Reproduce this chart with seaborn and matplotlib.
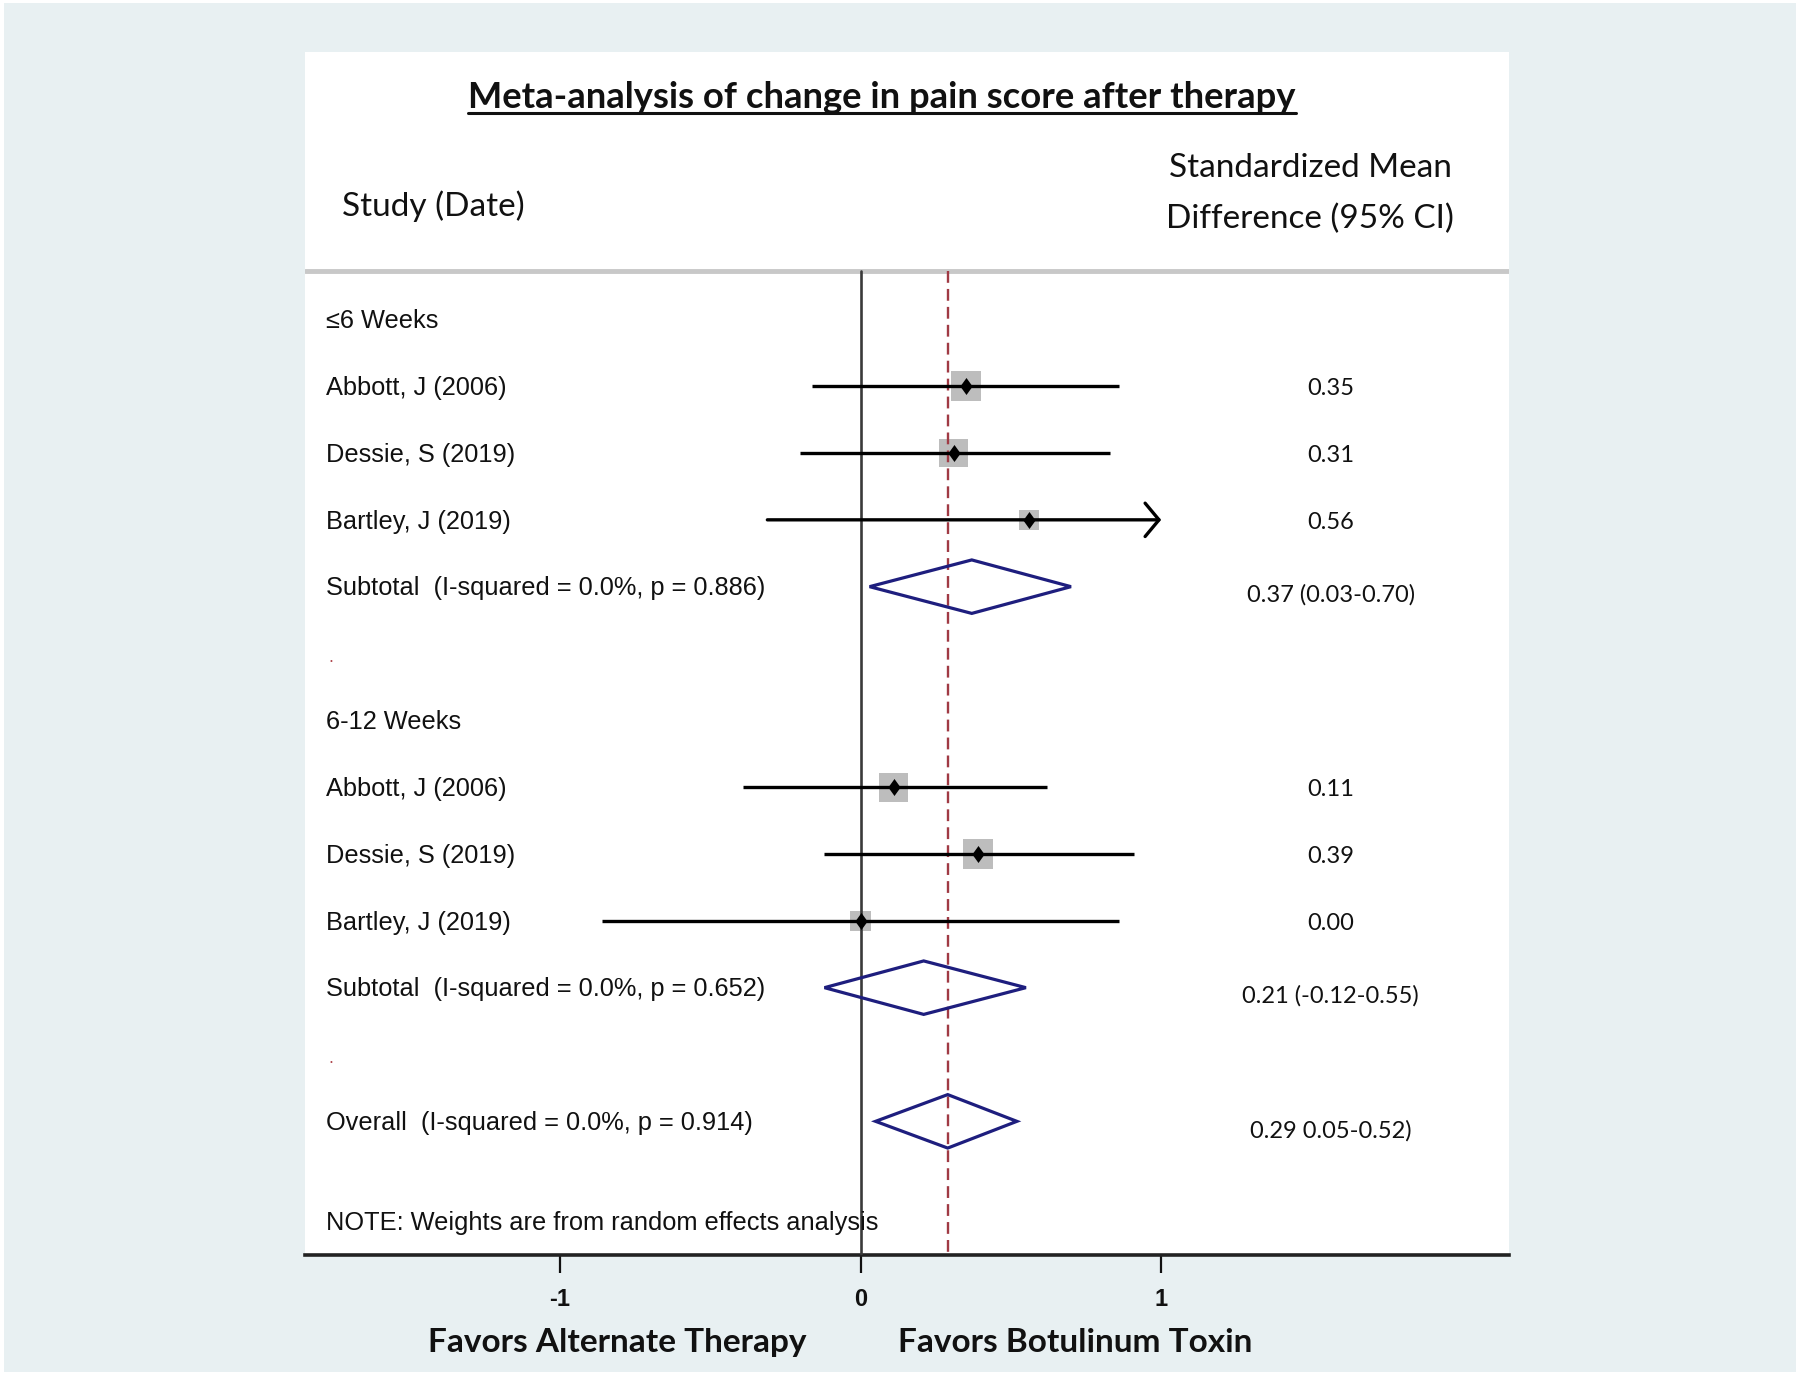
import pandas as pd
import matplotlib.pyplot as plt
import matplotlib.patches as mpatches
from matplotlib.lines import Line2D
import seaborn as sns

# Data
group_names = ["≤6 Weeks", "6-12 Weeks"]
study_names = ["Abbott, J (2006)", "Dessie, S (2019)", "Bartley, J (2019)",
               "Abbott, J (2006)", "Dessie, S (2019)", "Bartley, J (2019)"]
study_group = [0, 0, 0, 1, 1, 1]
smd = [0.35, 0.31, 0.56, 0.11, 0.39, 0.00]
ci_low = [-0.16, -0.20, -0.31, -0.39, -0.12, -0.86]
ci_high = [0.86, 0.83, 1.43, 0.62, 0.91, 0.86]
weights = [21.0, 19.6, 9.4, 19.9, 20.6, 9.6]
smd_text = ["0.35", "0.31", "0.56", "0.11", "0.39", "0.00"]

subtotal_labels = ["Subtotal  (I-squared = 0.0%, p = 0.886)",
                   "Subtotal  (I-squared = 0.0%, p = 0.652)"]
subtotal_est = [0.37, 0.21]
subtotal_low = [0.03, -0.12]
subtotal_high = [0.70, 0.55]
subtotal_text = ["0.37 (0.03-0.70)", "0.21 (-0.12-0.55)"]

overall_label = "Overall  (I-squared = 0.0%, p = 0.914)"
overall_est = 0.29
overall_low = 0.05
overall_high = 0.52
overall_text = "0.29 0.05-0.52)"

note_text = "NOTE: Weights are from random effects analysis"
x_ticks = [-1, 0, 1]
x_clip = 1.0  # upper end of the plotted scale, CIs beyond get an arrow

# Layout of rows: heading, 3 studies, subtotal, spacer per group
heading_rows = [g * 6 for g in range(len(group_names))]
study_rows = [heading_rows[g] + 1 + (i % 3) for i, g in enumerate(study_group)]
subtotal_rows = [h + 4 for h in heading_rows]
spacer_rows = [h + 5 for h in heading_rows]
overall_row = 12
note_row = 13.5
header_row = -0.73

df = pd.DataFrame({"study": study_names, "smd": smd, "low": ci_low,
                   "high": ci_high, "weight": weights, "row": study_rows})

sns.set_theme(style="white")
plt.rcParams["font.family"] = ["Liberation Sans", "DejaVu Sans"]

bg = "#E8F0F2"
navy = "#1E1E7E"
fig = plt.figure(figsize=(18, 13.76), dpi=100, facecolor="white")
fig.patches.append(mpatches.Rectangle((4 / 1800, 4 / 1376), 1 - 8 / 1800, 1 - 7 / 1376,
                                      transform=fig.transFigure, facecolor=bg,
                                      edgecolor="none", zorder=-10))
ax = fig.add_axes([305 / 1800, 121 / 1376, 1204 / 1800, 1203 / 1376])
ax.set_facecolor("white")

# weight boxes and point estimates
k = 22.2
sns.scatterplot(data=df, x="smd", y="row", size="weight",
                sizes=(k * min(weights), k * max(weights)), marker="s",
                color="#BDBDBD", linewidth=0, legend=False, ax=ax, zorder=2)
point_marker = [(-0.72, 0), (0, 1), (0.72, 0), (0, -1), (-0.72, 0)]
sns.scatterplot(data=df, x="smd", y="row", marker=point_marker, color="black",
                s=150, linewidth=0, legend=False, ax=ax, zorder=5)

# confidence intervals
for _, r in df.iterrows():
    if r["high"] > x_clip:
        ax.annotate("", xy=(x_clip, r["row"]), xytext=(r["low"], r["row"]),
                    arrowprops=dict(arrowstyle="->,head_length=0.5,head_width=0.6",
                                    lw=2.4, color="black", shrinkA=0, shrinkB=0,
                                    mutation_scale=20), zorder=4)
    else:
        ax.plot([r["low"], r["high"]], [r["row"], r["row"]], color="black",
                lw=2.4, solid_capstyle="butt", zorder=4)

# pooled diamonds
def diamond(est, lo, hi, y):
    ax.add_patch(mpatches.Polygon([(lo, y), (est, y - 0.4), (hi, y), (est, y + 0.4)],
                                  closed=True, fill=False, edgecolor=navy,
                                  lw=2.3, joinstyle="miter", zorder=4))

for g in range(len(group_names)):
    diamond(subtotal_est[g], subtotal_low[g], subtotal_high[g], subtotal_rows[g])
diamond(overall_est, overall_low, overall_high, overall_row)

ax.set_xlim(-1.848, 2.157)
ax.set_ylim(14, -4)

# reference lines
ax.plot([0, 0], [header_row, 14], color="#3A3A3A", lw=1.9, zorder=3)
ax.plot([overall_est, overall_est], [header_row, 14], color="#A03A44", lw=1.7,
        dashes=(5, 2.6), zorder=3)
ax.axhline(header_row, color="#C8C8C8", lw=3.5, zorder=1)

# left-hand labels and right-hand values
tr = ax.get_yaxis_transform()
lab_kw = dict(transform=tr, ha="left", va="baseline", fontsize=18.3, color="#111111")
val_kw = dict(transform=tr, ha="center", va="baseline", fontsize=17,
              family="Lato", color="#111111")
lx, vx = 0.0171, 0.852
for g, name in enumerate(group_names):
    ax.text(lx, heading_rows[g] + 0.13, name, **lab_kw)
    ax.text(lx, subtotal_rows[g] + 0.13, subtotal_labels[g], **lab_kw)
    ax.text(vx, subtotal_rows[g] + 0.22, subtotal_text[g], **val_kw)
    ax.text(lx + 0.002, spacer_rows[g] + 0.12, ".", transform=tr, ha="left",
            va="baseline", fontsize=13, color="#B04A50")
for _, r in df.iterrows():
    ax.text(lx, r["row"] + 0.13, r["study"], **lab_kw)
for i, t in enumerate(smd_text):
    ax.text(vx, study_rows[i] + 0.13, t, **val_kw)
ax.text(lx, overall_row + 0.13, overall_label, **lab_kw)
ax.text(vx, overall_row + 0.25, overall_text, **val_kw)
ax.text(lx, note_row + 0.13, note_text, **lab_kw)

# column headers
hd_kw = dict(transform=tr, va="baseline", fontsize=24, family="Lato", color="#111111")
ax.text(0.0304, -1.55, "Study (Date)", ha="left", **hd_kw)
ax.text(0.835, -2.13, "Standardized Mean", ha="center", **hd_kw)
ax.text(0.835, -1.36, "Difference (95% CI)", ha="center", **hd_kw)

# axes styling
for side in ["top", "left", "right"]:
    ax.spines[side].set_visible(False)
ax.spines["bottom"].set_color("#222222")
ax.spines["bottom"].set_linewidth(2.6)
ax.set_xticks(x_ticks)
ax.set_xticklabels([str(t) for t in x_ticks], fontsize=17, fontweight="bold")
ax.tick_params(axis="x", bottom=True, length=13, width=1.6, pad=11,
               colors="#111111", direction="out")
ax.tick_params(axis="y", left=False, labelleft=False)
ax.set_xlabel("")
ax.set_ylabel("")
ax.grid(False)

# bottom captions and title
fig.text(617 / 1800, 24 / 1376, "Favors Alternate Therapy", ha="center", va="baseline",
         fontsize=24, fontweight="bold", family="Lato", color="#111111")
fig.text(1075 / 1800, 24 / 1376, "Favors Botulinum Toxin", ha="center", va="baseline",
         fontsize=24, fontweight="bold", family="Lato", color="#111111")
title = fig.text(882 / 1800, (1376 - 108) / 1376,
                 "Meta-analysis of change in pain score after therapy",
                 ha="center", va="baseline", fontsize=26.2, fontweight="bold",
                 family="Lato", color="#111111")
fig.canvas.draw()
bb = title.get_window_extent()
uy = (1376 - 113) / 1376
fig.add_artist(Line2D([bb.x0 / fig.bbox.width, bb.x1 / fig.bbox.width], [uy, uy],
                      transform=fig.transFigure, color="#111111", lw=2.2))

fig.savefig("out.png", dpi=100)
